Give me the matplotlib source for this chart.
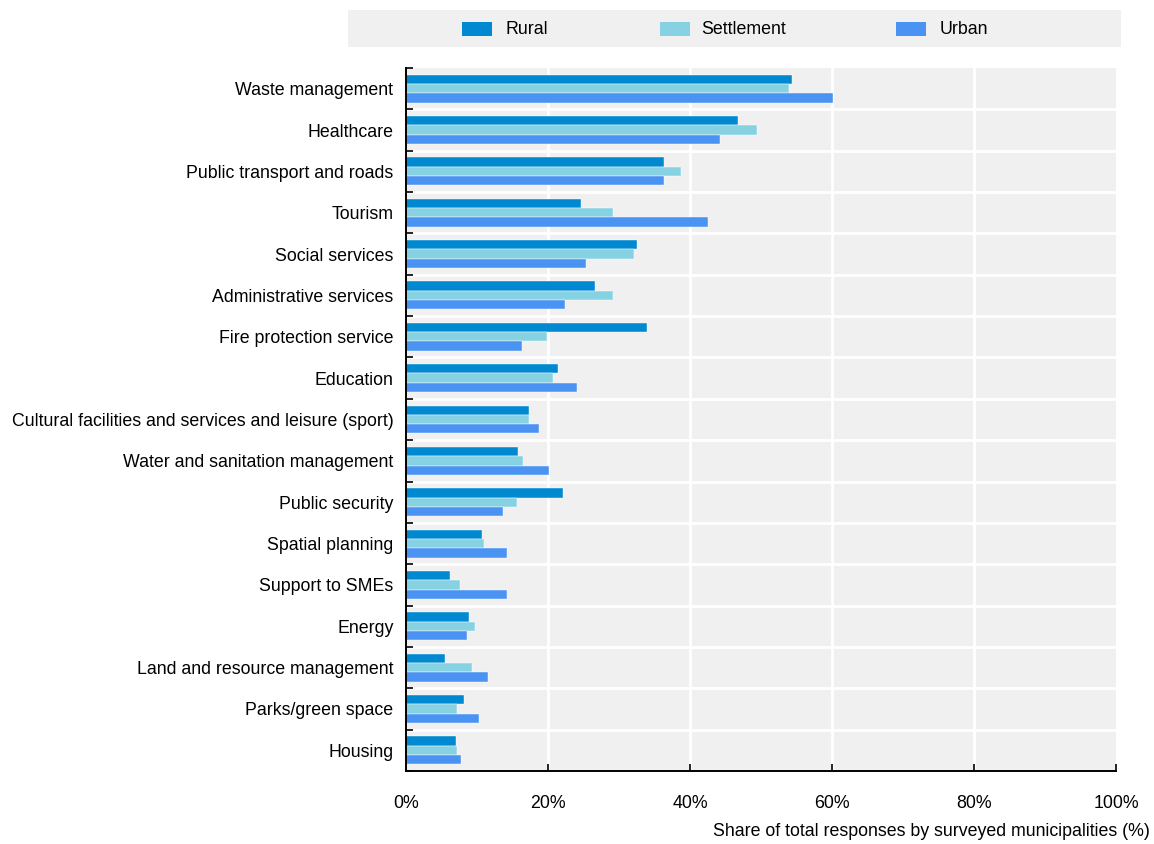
import matplotlib
matplotlib.use("Agg")
import matplotlib.pyplot as plt
from matplotlib.patches import Rectangle
import numpy as np

plt.rcParams['font.family'] = ['Liberation Sans', 'DejaVu Sans']

categories = [
    "Waste management", "Healthcare", "Public transport and roads", "Tourism",
    "Social services", "Administrative services", "Fire protection service",
    "Education", "Cultural facilities and services and leisure (sport)",
    "Water and sanitation management", "Public security", "Spatial planning",
    "Support to SMEs", "Energy", "Land and resource management",
    "Parks/green space", "Housing",
]
rural = [54.3, 46.8, 36.4, 24.6, 32.5, 26.6, 33.9, 21.4, 17.3, 15.8, 22.1,
         10.7, 6.2, 8.9, 5.5, 8.2, 7.0]
settlement = [54.0, 49.4, 38.8, 29.1, 32.1, 29.1, 19.8, 20.7, 17.3, 16.5, 15.6,
              11.0, 7.6, 9.7, 9.3, 7.2, 7.2]
urban = [60.1, 44.2, 36.4, 42.5, 25.3, 22.4, 16.3, 24.1, 18.8, 20.1, 13.6,
         14.2, 14.2, 8.6, 11.5, 10.3, 7.7]
series_names = ["Rural", "Settlement", "Urban"]
colors = ["#0088d1", "#86d2e3", "#4a93f2"]
xticks = [0, 20, 40, 60, 80, 100]
xtick_labels = ["0%", "20%", "40%", "60%", "80%", "100%"]
xlabel = "Share of total responses by surveyed municipalities (%)"

FS = 12.8
W, H = 1154, 844
fig = plt.figure(figsize=(W / 100, H / 100), dpi=100)
ax = fig.add_axes([406 / W, 1 - 771 / H, (1116 - 406) / W, (771 - 68) / H])
ax.set_facecolor("#f0f0f0")

n = len(categories)
y = np.arange(n)
bh = 0.225
for i, (vals, c) in enumerate(zip([rural, settlement, urban], colors)):
    ax.barh(y + (i - 1) * bh, vals, height=bh, color=c, edgecolor="white",
            linewidth=0.3, zorder=3)

ax.set_ylim(n - 0.5, -0.5)
ax.set_xlim(0, 100)
ax.set_yticks(y)
ax.set_yticklabels(categories, fontsize=FS)
ax.tick_params(axis="y", which="major", length=0, pad=9)
ax.set_yticks(np.arange(-0.5, n, 1.0), minor=True)
ax.tick_params(axis="y", which="minor", direction="in", length=5, width=1.2,
               color="black")
ax.set_xticks(xticks)
ax.set_xticklabels(xtick_labels, fontsize=FS)
ax.tick_params(axis="x", direction="in", length=5, width=1.2, pad=17)

for b in np.arange(0.5, n - 0.5, 1.0):
    ax.axhline(b, color="white", lw=2, zorder=1)
for xv in xticks[1:-1]:
    ax.axvline(xv, color="white", lw=2, zorder=1)

for s in ["top", "right"]:
    ax.spines[s].set_visible(False)
for s in ["left", "bottom"]:
    ax.spines[s].set_linewidth(1.4)
    ax.spines[s].set_zorder(5)

fig.text(1150 / W, 1 - 832 / H, xlabel, ha="right", va="center", fontsize=FS)

# Legend strip across the top
fig.patches.append(Rectangle((348 / W, 1 - 47 / H), (1121 - 348) / W, 37 / H,
                             transform=fig.transFigure, facecolor="#f0f0f0",
                             edgecolor="none"))
hx = [462, 660, 896]
tx = [505, 701, 940]
for name, c, h0, t0 in zip(series_names, colors, hx, tx):
    fig.patches.append(Rectangle((h0 / W, 1 - 36 / H), 30 / W, 14 / H,
                                 transform=fig.transFigure, facecolor=c,
                                 edgecolor="none"))
    fig.text(t0 / W, 1 - 29 / H, name, ha="left", va="center", fontsize=FS)

fig.savefig("out.png", dpi=100)
